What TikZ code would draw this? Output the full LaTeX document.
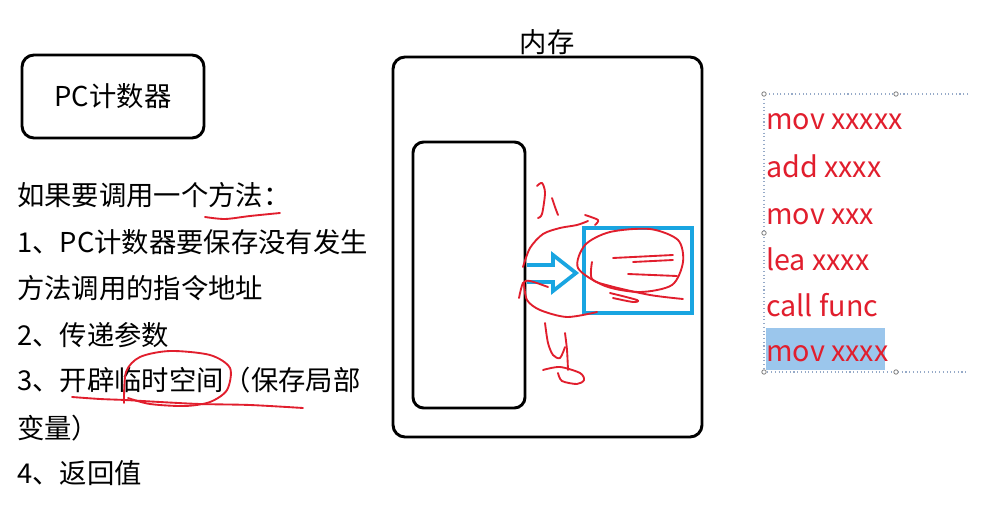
\documentclass[tikz,border=0pt]{standalone}
\usepackage{fontspec}
\setmainfont{Noto Sans CJK SC}
\usepackage{xcolor}
\usetikzlibrary{arrows.meta,positioning}
\definecolor{inkred}{RGB}{225,30,45}
\definecolor{boxblue}{RGB}{25,165,225}
\definecolor{selblue}{RGB}{155,198,236}
\definecolor{handle}{RGB}{150,170,200}

\begin{document}
\begin{tikzpicture}[x=0.75pt, y=-0.75pt,
    txt/.style={font=\fontsize{20.5pt}{24pt}\selectfont, inner sep=0pt},
    box/.style={draw, line width=2.2pt, rounded corners=9pt},
    code/.style={font=\fontsize{21.5pt}{25pt}\selectfont, inner sep=0pt, text=inkred, anchor=base west},
    ink/.style={draw=inkred, line width=1.4pt, line cap=round, line join=round},
    >=Stealth]
  \fill[white] (0,0) rectangle (992,506);
  \useasboundingbox (0,0) rectangle (992,506);

  % PC counter and the steps
  \node[box, txt, minimum width=136.5pt, minimum height=62.25pt] (pc) at (113,96.5) {PC计数器};
  \foreach \i/\t/\y in {0/如果要调用一个方法：/195, 1/1、PC计数器要保存没有发生/242,
      2/方法调用的指令地址/288, 3/2、传递参数/335, 4/3、开辟临时空间（保存局部/380,
      5/变量）/428, 6/4、返回值/473}
    \node[txt, anchor=west] (s\i) at (17,\y) {\t};

  % memory
  \node[box, minimum width=231.75pt, minimum height=285pt] (mem) at (547.5,247) {};
  \node[txt] (memlbl) at (547,42) {内存};
  \node[box, rounded corners=8pt, minimum width=84pt, minimum height=199.5pt] (stack) at (469,275) {};
  \node[draw=boxblue, line width=3pt, minimum width=81pt, minimum height=63.75pt] (frame) at (638,270.5) {};
  \draw[boxblue, line width=2.8pt, line join=miter]
    (527,265) -- (553,265) -- (553,255) -- (576,273) -- (553,291) -- (553,282) -- (527,282);

  % instructions
  \fill[selblue] (766,328) rectangle (885,370);
  \foreach \i/\t/\y in {0/mov xxxxx/130, 1/add xxxx/177, 2/mov xxx/224,
      3/lea xxxx/270, 4/call func/316, 5/mov xxxx/361}
    \node[code] (c\i) at (766,\y) {\t};
  \draw[handle, line width=0.8pt, dotted] (968,94) -- (764,94) -- (764,372) -- (968,372);
  \foreach \p in {(764,94),(896,94),(764,233),(764,372),(896,372)}
    \draw[gray, fill=white, line width=0.6pt] \p circle (2.2);

  % red pen marks
  \draw[ink] plot[smooth] coordinates {(205,217) (225,219) (250,216) (280,213)};
  \draw[ink] plot[smooth] coordinates {(124,403) (126,372) (140,357) (170,351) (210,355)
      (230,368) (227,390) (210,402) (185,406) (150,404) (128,398)};
  \draw[ink] plot[smooth] coordinates {(72,397) (100,399) (125,400) (160,402) (200,404)
      (250,405) (303,408)};
  \draw[ink] plot[smooth] coordinates {(537,186) (542,183) (545,193) (542,214) (538,218)};
  \draw[ink] plot[smooth] coordinates {(552,198) (555,207) (558,215)};
  \draw[ink] plot[smooth] coordinates {(523,267) (530,248) (543,234) (560,228) (577,225) (588,221)};
  \draw[ink] plot[smooth] coordinates {(585,215) (598,220) (595,225)};
  \draw[ink] plot[smooth] coordinates {(519,298) (523,283) (530,281) (548,287)};
  \draw[ink] plot[smooth] coordinates {(524,283) (527,300) (540,310) (567,317) (597,312)};
  \draw[ink] plot[smooth cycle] coordinates {(585,245) (610,232) (650,229) (678,240) (683,262)
      (672,285) (640,292) (605,286) (578,268)};
  \draw[ink] (613,258) -- (673,255);
  \draw[ink] (633,262) -- (673,260);
  \draw[ink] (628,274) -- (677,276);
  \draw[ink] plot[smooth] coordinates {(592,262) (592,279) (610,286) (650,295) (683,299)};
  \draw[ink] plot[smooth] coordinates {(610,293) (637,300) (633,302) (613,298)};
  \draw[ink] plot[smooth] coordinates {(545,323) (548,343) (553,355) (560,358) (565,347)};
  \draw[ink] plot[smooth] coordinates {(565,333) (567,350) (568,370)};
  \draw[ink] plot[smooth] coordinates {(543,370) (560,367) (580,373) (584,380) (577,384)
      (562,381) (558,373)};
\end{tikzpicture}
\end{document}
